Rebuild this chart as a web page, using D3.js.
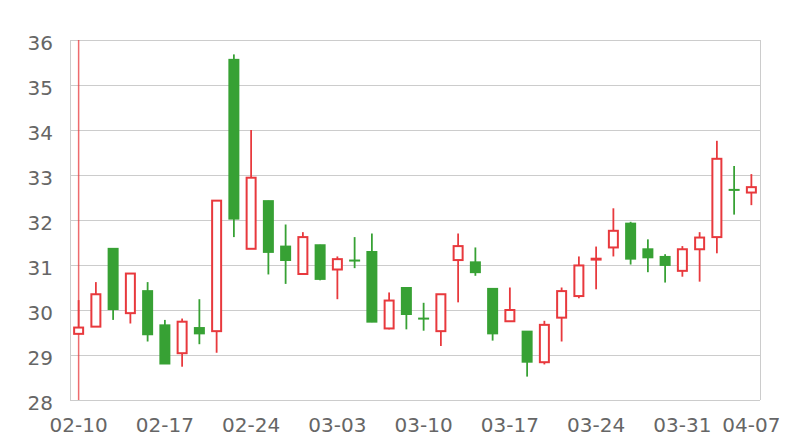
<!DOCTYPE html>
<html>
<head>
<meta charset="utf-8">
<script src="https://cdn.jsdelivr.net/npm/d3@7/dist/d3.min.js"></script>
<style>
  html, body { margin: 0; padding: 0; background: #fff; }
  svg { display: block; }
  text { font-family: "DejaVu Sans", Verdana, sans-serif; }
</style>
</head>
<body>
<svg id="chart" width="800" height="440"></svg>
<script>
const dates = ["02-10","02-11","02-12","02-13","02-14","02-17","02-18","02-19","02-20","02-21",
  "02-24","02-25","02-26","02-27","02-28","03-03","03-04","03-05","03-06","03-07",
  "03-10","03-11","03-12","03-13","03-14","03-17","03-18","03-19","03-20","03-21",
  "03-24","03-25","03-26","03-27","03-28","03-31","04-01","04-02","04-03","04-07"];
const opens  = [29.47,29.63,31.37,29.93,30.43,29.67,29.04,29.61,29.53,35.57,
  31.36,32.43,31.42,30.80,31.45,30.90,31.11,31.30,29.59,30.50,
  29.82,29.53,31.11,31.07,30.48,29.75,29.53,28.84,29.83,30.31,
  31.12,31.39,31.93,31.36,31.19,30.87,31.35,31.62,32.68,32.61];
const closes = [29.61,30.35,30.01,30.81,29.45,28.80,29.74,29.47,32.43,32.02,
  32.94,31.28,31.10,31.62,30.68,31.13,31.09,29.73,30.21,29.90,
  29.80,30.35,31.42,30.83,29.47,30.00,28.84,29.67,30.42,30.99,
  31.14,31.76,31.13,31.16,30.99,31.35,31.61,33.36,32.66,32.73];
const highs  = [30.22,30.62,31.37,30.82,30.62,29.78,29.81,30.24,32.43,35.68,
  34.00,32.43,31.90,31.73,31.45,31.19,31.62,31.70,30.39,30.50,
  30.16,30.35,31.70,31.39,30.48,30.50,29.53,29.76,30.50,31.19,
  31.41,32.26,31.96,31.57,31.24,31.42,31.73,33.76,33.20,33.02];
const lows   = [29.45,29.63,29.78,29.70,29.30,28.80,28.74,29.24,29.05,31.62,
  31.36,30.79,30.58,30.80,30.66,30.24,30.93,29.73,29.57,29.57,
  29.54,29.20,30.17,30.76,29.32,29.75,28.52,28.79,29.30,30.26,
  30.46,31.19,31.01,30.84,30.61,30.74,30.63,31.26,32.12,32.33];
const yTicks = [28,29,30,31,32,33,34,35,36];
const xTickLabels = ["02-10","02-17","02-24","03-03","03-10","03-17","03-24","03-31","04-07"];
const markerDates = ["02-10"];

const upColor = "#e8393d", downColor = "#37a134";
const margin = {top: 40, right: 40, bottom: 40, left: 70};
const W = 800, H = 440;
const svg = d3.select("#chart");

const x = d3.scaleBand().domain(dates).range([margin.left, W - margin.right]).paddingInner(0).paddingOuter(0);
const y = d3.scaleLinear().domain([28, 36]).range([H - margin.bottom, margin.top]);

const data = dates.map((d, i) => ({date: d, open: opens[i], close: closes[i], high: highs[i], low: lows[i]}));

// grid
svg.append("g").selectAll("line").data(yTicks).join("line")
  .attr("x1", margin.left).attr("x2", W - margin.right)
  .attr("y1", d => y(d) + 0.5).attr("y2", d => y(d) + 0.5)
  .attr("stroke", "#cccccc").attr("stroke-width", 1);
svg.append("line").attr("x1", margin.left + 0.5).attr("x2", margin.left + 0.5)
  .attr("y1", y(36)).attr("y2", y(28)).attr("stroke", "#cccccc");
svg.append("line").attr("x1", W - margin.right + 0.5).attr("x2", W - margin.right + 0.5)
  .attr("y1", y(36)).attr("y2", y(28)).attr("stroke", "#cccccc");

// y axis
const yAxis = d3.axisLeft(y).tickValues(yTicks).tickSize(0).tickPadding(17);
const gy = svg.append("g").attr("transform", `translate(${margin.left},0)`).call(yAxis);
gy.select(".domain").remove();
gy.selectAll("text").attr("font-size", 20).attr("fill", "#666").attr("dy", "0.45em")
  .attr("font-family", "DejaVu Sans, sans-serif");

// x axis
const xAxis = d3.axisBottom(x).tickValues(xTickLabels).tickSize(0).tickPadding(18);
const gx = svg.append("g").attr("transform", `translate(0,${H - margin.bottom})`).call(xAxis);
gx.select(".domain").remove();
gx.selectAll("text").attr("font-size", 20).attr("fill", "#666").attr("dy", "0.72em")
  .attr("font-family", "DejaVu Sans, sans-serif");

const cx = d => x(d) + x.bandwidth() / 2;

// marker line
svg.append("g").selectAll("line").data(markerDates).join("line")
  .attr("x1", d => cx(d)).attr("x2", d => cx(d))
  .attr("y1", y(36)).attr("y2", y(28))
  .attr("stroke", upColor).attr("stroke-opacity", 0.75).attr("stroke-width", 1.5);

const bw = 11;
const g = svg.append("g");
// wicks
g.selectAll("line.wick").data(data).join("line").attr("class", "wick")
  .attr("x1", d => cx(d.date)).attr("x2", d => cx(d.date))
  .attr("y1", d => y(d.high)).attr("y2", d => y(d.low))
  .attr("stroke", d => d.close >= d.open ? upColor : downColor)
  .attr("stroke-width", 1.8);
// bodies
g.selectAll("rect.body").data(data).join("rect").attr("class", "body")
  .each(function(d) {
    const up = d.close >= d.open;
    const top = y(Math.max(d.open, d.close)), bot = y(Math.min(d.open, d.close));
    const s = d3.select(this);
    if (up) {
      s.attr("x", cx(d.date) - bw / 2 + 1).attr("width", bw - 2)
       .attr("y", top).attr("height", Math.max(bot - top, 0.5))
       .attr("fill", "#fff").attr("stroke", upColor).attr("stroke-width", 2);
    } else {
      s.attr("x", cx(d.date) - bw / 2).attr("width", bw)
       .attr("y", top - 0.5).attr("height", Math.max(bot - top, 1) + 1)
       .attr("fill", downColor).attr("stroke", "none");
    }
  });
</script>
</body>
</html>
